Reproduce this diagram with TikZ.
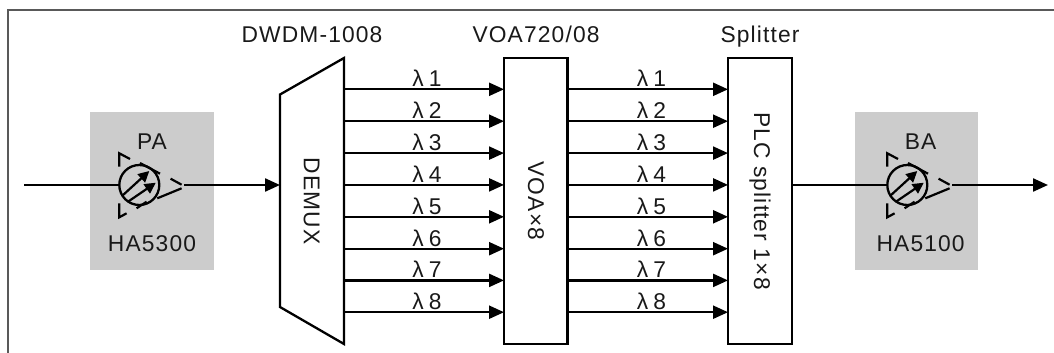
\documentclass[tikz,border=0pt]{standalone}
\usepackage{fontspec}
\setmainfont[LetterSpace=5]{Liberation Sans}
\usetikzlibrary{arrows.meta}
\tikzset{
  frameline/.style={draw=black!65,line width=1.8pt},
  grayblock/.style={fill=black!20,draw=none},
  block/.style={draw=black,line width=2.3pt,fill=white},
  wire/.style={draw=black,line width=2.3pt},
  sig/.style={wire,-{Triangle[length=15pt,width=13pt]}},
  lab/.style={font=\fontsize{22.8}{25}\selectfont,inner sep=0pt,anchor=base,text=black!90},
  rlab/.style={font=\fontsize{22.8}{25}\selectfont,inner sep=0pt,rotate=-90,text=black!90},
  ampc/.style={circle,draw=black,line width=2.3pt,minimum size=40pt,inner sep=0pt},
  inner/.style={draw=black,line width=2.2pt,-{Triangle[length=11pt,width=11pt]}},
  ampt/.style={draw=black,line width=2.2pt},
}
\newcommand{\ampsym}[3]{%
  % #1 node name, #2 x of circle centre, #3 y of centre
  \begin{scope}[shift={(#2,#3)}]
    \node[ampc] (#1) at (0,0) {};
    \draw[ampt] (-20,-18.3) -- (-20,-31.7) -- (-9.3,-26);
    \draw[ampt] (0.7,-22) -- (20.7,-11.3);
    \draw[ampt] (31.3,-6.3) -- (42.3,-0.3);
    \draw[ampt] (42.3,3.3) -- (18,13.3);
    \draw[ampt] (7.3,16.7) -- (-2.7,23.3);
    \draw[ampt] (-12.7,28.3) -- (-20,32.3) -- (-20,18.3);
    \draw[inner] (-17.3,11) -- (10,-14);
    \draw[inner] (-11.3,16.7) -- (16.5,-2.3);
  \end{scope}}
\begin{document}
\begin{tikzpicture}[x=1pt,y=-1pt]
\useasboundingbox (0,0) rectangle (1054,353);
\coordinate (fa) at (8,353);
\coordinate (fb) at (8,10);
\coordinate (fc) at (1054,10);
\draw[frameline] (fa) -- (fb) -- (fc);

\node[grayblock,minimum width=123.4pt,minimum height=158.4pt,inner sep=0pt] (pablock) at (152,190.9) {};
\node[grayblock,minimum width=123.4pt,minimum height=158.4pt,inner sep=0pt] (bablock) at (916.7,190.9) {};

\node[lab] (patxt) at (152,149) {PA};
\node[lab] (hatxt) at (152,251) {HA5300};
\node[lab] (batxt) at (920.6,149) {BA};
\node[lab] (hbtxt) at (920.6,251) {HA5100};

\ampsym{paamp}{139.3}{185}
\ampsym{baamp}{907.3}{185}

\draw[block] (280,94.5) -- (344,58) -- (344,344) -- (280,307) -- cycle;
\node[rlab] (demux) at (311.5,201) {DEMUX};
\node[block,minimum width=63.5pt,minimum height=286pt,inner sep=0pt] (voa) at (535.7,201) {};
\node[rlab] (voatxt) at (536,201) {VOA×8};
\node[block,minimum width=64pt,minimum height=286pt,inner sep=0pt] (spl) at (760,201) {};
\node[rlab] (spltxt) at (760,201) {PLC splitter 1×8};

\node[lab] (t1) at (312,42) {DWDM-1008};
\node[lab] (t2) at (536,42) {VOA720/08};
\node[lab] (t3) at (760,42) {Splitter};

\foreach \i/\yy in {1/89.3,2/121.2,3/153.1,4/184.9,5/216.8,6/248.7,7/280.4,8/312.2}{
  \coordinate (da\i) at (344,\yy);
  \coordinate (vi\i) at (504,\yy);
  \coordinate (vo\i) at (567.5,\yy);
  \coordinate (si\i) at (728,\yy);
  \draw[sig] (da\i) -- (vi\i);
  \draw[sig] (vo\i) -- (si\i);
  \node[lab] (la\i) at (427,\yy-2.6) {λ\hspace{5pt}\i};
  \node[lab] (lb\i) at (651.5,\yy-2.6) {λ\hspace{5pt}\i};
}

\coordinate (inp) at (24,185);
\coordinate (paout) at (184,185);
\coordinate (dmin) at (280,185);
\coordinate (spout) at (792,185);
\coordinate (baout) at (952,185);
\coordinate (outp) at (1048,185);
\draw[wire] (inp) -- (paamp.west);
\draw[sig] (paout) -- (dmin);
\draw[wire] (spout) -- (baamp.west);
\draw[sig] (baout) -- (outp);
\end{tikzpicture}
\end{document}
